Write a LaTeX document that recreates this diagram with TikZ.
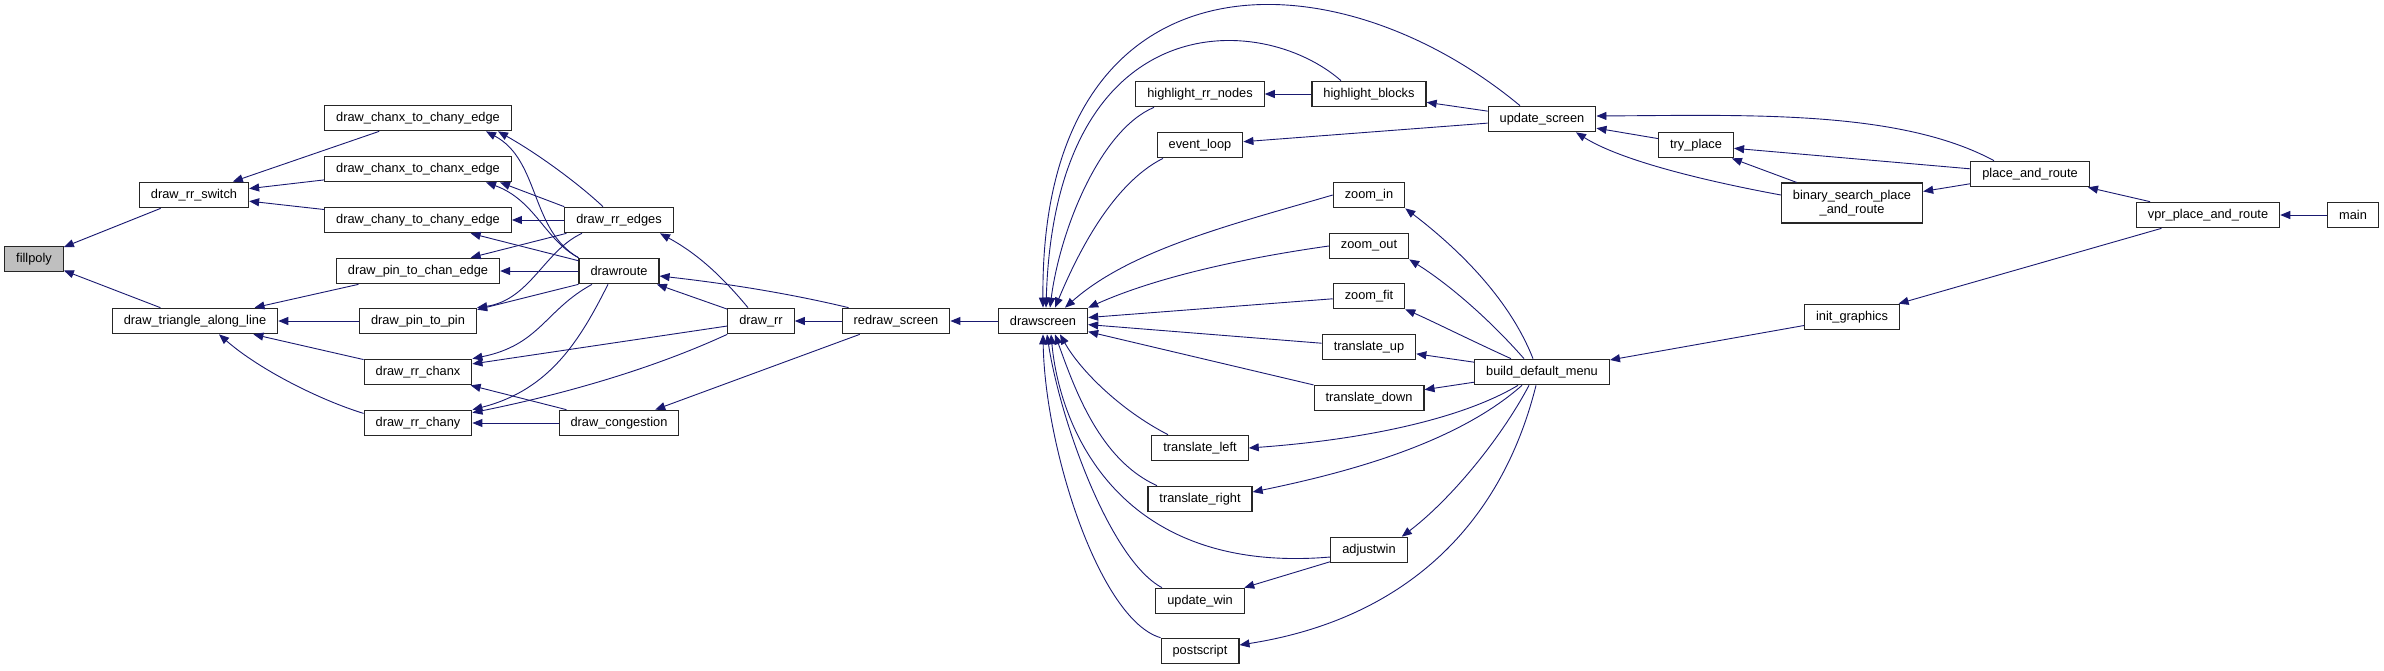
\documentclass[tikz,border=0pt]{standalone}
\usepackage{fontspec}
\setmainfont{Liberation Sans}
\usetikzlibrary{arrows.meta}
\definecolor{edgeblue}{HTML}{191970}
\definecolor{focusgray}{HTML}{BFBFBF}

\begin{document}
\begin{tikzpicture}[
    x=1pt, y=-1pt,
    func/.style={rectangle, draw=black!85, line width=1.2pt, fill=white, minimum height=25.5pt, inner xsep=11.5pt, inner ysep=0pt, font=\fontsize{12.8}{14.3}\selectfont},
    focus/.style={func, fill=focusgray},
    call/.style={->, draw=edgeblue, line width=0.9pt, >={Triangle[length=10pt,width=8pt]}}
]
    \useasboundingbox (0,0) rectangle (2384,670);

    % Functions
    \node[focus] (fillpoly) at (34,259) {fillpoly};
    \node[func] (rrswitch) at (194,195) {draw\_rr\_switch};
    \node[func] (triangle) at (195,321) {draw\_triangle\_along\_line};
    \node[func] (chanxchany) at (418,118) {draw\_chanx\_to\_chany\_edge};
    \node[func] (chanxchanx) at (418,169) {draw\_chanx\_to\_chanx\_edge};
    \node[func] (chanychany) at (418,220) {draw\_chany\_to\_chany\_edge};
    \node[func] (pinchan) at (418,271) {draw\_pin\_to\_chan\_edge};
    \node[func] (pinpin) at (418,321) {draw\_pin\_to\_pin};
    \node[func] (rrchanx) at (418,372) {draw\_rr\_chanx};
    \node[func] (rrchany) at (418,423) {draw\_rr\_chany};
    \node[func] (rredges) at (619,220) {draw\_rr\_edges};
    \node[func] (drawroute) at (619,271) {drawroute};
    \node[func] (congestion) at (619,423) {draw\_congestion};
    \node[func] (drawrr) at (761,321) {draw\_rr};
    \node[func] (redraw) at (896,321) {redraw\_screen};
    \node[func] (drawscreen) at (1043,321) {drawscreen};
    \node[func] (hlnodes) at (1200,94) {highlight\_rr\_nodes};
    \node[func] (hlblocks) at (1369,94) {highlight\_blocks};
    \node[func] (updscreen) at (1542,119) {update\_screen};
    \node[func] (eventloop) at (1200,145) {event\_loop};
    \node[func] (zoomin) at (1369,195) {zoom\_in};
    \node[func] (zoomout) at (1369,246) {zoom\_out};
    \node[func] (zoomfit) at (1369,296) {zoom\_fit};
    \node[func] (trup) at (1369,347) {translate\_up};
    \node[func] (trdown) at (1369,398) {translate\_down};
    \node[func] (trleft) at (1200,448) {translate\_left};
    \node[func] (trright) at (1200,499) {translate\_right};
    \node[func] (adjustwin) at (1369,550) {adjustwin};
    \node[func] (updwin) at (1200,601) {update\_win};
    \node[func] (postscript) at (1200,651) {postscript};
    \node[func] (bdm) at (1542,372) {build\_default\_menu};
    \node[func] (tryplace) at (1696,145) {try\_place};
    \node[func, minimum height=40pt, align=center] (binsearch) at (1852,203) {binary\_search\_place\\\_and\_route};
    \node[func] (placeroute) at (2030,174) {place\_and\_route};
    \node[func] (vpr) at (2208,215) {vpr\_place\_and\_route};
    \node[func] (main) at (2353,215) {main};
    \node[func] (initgfx) at (1852,317) {init\_graphics};

    % Callers of fillpoly
    \draw[call] (rrswitch) -- (fillpoly);
    \draw[call] (triangle) -- (fillpoly);
    \draw[call] (chanxchany) -- (rrswitch);
    \draw[call] (chanxchanx) -- (rrswitch);
    \draw[call] (chanychany) -- (rrswitch);
    \draw[call] (pinchan) -- (triangle);
    \draw[call] (pinpin) -- (triangle);
    \draw[call] (rrchanx) -- (triangle);
    \draw[call] (rrchany.170) .. controls (320,400) and (260,370) .. ([xshift=24pt]triangle.south);

    % Edge drawing
    \draw[call] ([xshift=-16pt]rredges.north) .. controls (580,185) and (540,155) .. ([xshift=80pt]chanxchany.south);
    \draw[call] (drawroute.north west) .. controls (530,230) and (540,160) .. ([xshift=68pt]chanxchany.south);
    \draw[call] (rredges.north west) -- ([xshift=82pt]chanxchanx.south);
    \draw[call] (drawroute.north west) .. controls (545,240) and (535,200) .. ([xshift=68pt]chanxchanx.south);
    \draw[call] (rredges) -- (chanychany);
    \draw[call] (drawroute) -- (chanychany);
    \draw[call] (rredges) -- (pinchan);
    \draw[call] (drawroute) -- (pinchan);
    \draw[call] ([xshift=-37pt]rredges.south) .. controls (545,250) and (530,300) .. (pinpin.north east);
    \draw[call] (drawroute.south west) -- ([yshift=-2pt]pinpin.north east);
    \draw[call] ([xshift=-27pt]drawroute.south) .. controls (545,310) and (540,345) .. (rrchanx.north east);
    \draw[call] (drawrr) -- (rrchanx);
    \draw[call] ([xshift=-11pt]drawroute.south) .. controls (580,340) and (550,390) .. (rrchany.north east);
    \draw[call] (drawrr.south west) .. controls (650,370) and (560,395) .. ([yshift=-3pt]rrchany.north east);
    \draw[call] (congestion) -- (rrchanx);
    \draw[call] (congestion) -- (rrchany);

    % Redraw chain
    \draw[call] ([xshift=-13pt]drawrr.north) .. controls (725,280) and (700,255) .. ([xshift=41pt]rredges.south);
    \draw[call] (drawrr) -- (drawroute);
    \draw[call] ([xshift=7pt]redraw.north west) .. controls (800,296) and (740,285) .. ([yshift=-5pt]drawroute.east);
    \draw[call] (redraw) -- (drawrr);
    \draw[call] (redraw) -- (congestion);
    \draw[call] (drawscreen) -- (redraw);

    % Callers of drawscreen
    \draw[call] ([xshift=-22pt]updscreen.north) .. controls (1330,-52) and (1040,-52) .. (drawscreen.north);
    \draw[call] ([xshift=-28pt]hlblocks.north) .. controls (1260,10) and (1055,5) .. ([xshift=3pt]drawscreen.north);
    \draw[call] ([xshift=-46pt]hlnodes.south) .. controls (1100,130) and (1060,230) .. ([xshift=7pt]drawscreen.north);
    \draw[call] ([xshift=-37pt]eventloop.south) .. controls (1110,185) and (1075,260) .. ([xshift=12pt]drawscreen.north);
    \draw[call] (zoomin.west) .. controls (1230,225) and (1130,250) .. ([xshift=22pt]drawscreen.north);
    \draw[call] (zoomout.west) .. controls (1230,260) and (1150,280) .. (drawscreen.north east);
    \draw[call] (zoomfit) -- (drawscreen);
    \draw[call] (trup) -- (drawscreen);
    \draw[call] (trdown) -- (drawscreen);
    \draw[call] ([xshift=-32pt]trleft.north) .. controls (1120,410) and (1080,370) .. ([xshift=17pt]drawscreen.south);
    \draw[call] ([xshift=-43pt]trright.north) .. controls (1100,460) and (1075,390) .. ([xshift=12pt]drawscreen.south);
    \draw[call] ([yshift=-7pt]adjustwin.west) .. controls (1120,575) and (1060,430) .. ([xshift=8pt]drawscreen.south);
    \draw[call] ([xshift=-38pt]updwin.north) .. controls (1110,560) and (1060,420) .. ([xshift=4pt]drawscreen.south);
    \draw[call] (postscript.north west) .. controls (1100,620) and (1045,450) .. (drawscreen.south);

    % Screen updates
    \draw[call] (hlblocks) -- (hlnodes);
    \draw[call] (updscreen) -- (hlblocks);
    \draw[call] (updscreen) -- (eventloop);
    \draw[call] (tryplace) -- (updscreen);
    \draw[call] ([yshift=8pt]binsearch.west) .. controls (1700,180) and (1620,160) .. ([xshift=34pt]updscreen.south);
    \draw[call] ([xshift=-36pt]placeroute.north) .. controls (1900,110) and (1750,115) .. ([yshift=3pt]updscreen.east);
    \draw[call] (placeroute) -- (tryplace);
    \draw[call] (binsearch) -- (tryplace);
    \draw[call] (placeroute) -- (binsearch);
    \draw[call] (vpr) -- (placeroute);
    \draw[call] (main) -- (vpr);
    \draw[call] (vpr) -- (initgfx);
    \draw[call] (initgfx) -- (bdm);

    % Menu buttons
    \draw[call] ([xshift=-9pt]bdm.north) .. controls (1510,300) and (1460,250) .. (zoomin.south east);
    \draw[call] ([xshift=-18pt]bdm.north) .. controls (1490,320) and (1450,285) .. (zoomout.south east);
    \draw[call] ([xshift=-31pt]bdm.north) .. controls (1470,340) and (1430,320) .. (zoomfit.south east);
    \draw[call] (bdm) -- (trup);
    \draw[call] (bdm) -- (trdown);
    \draw[call] ([xshift=-24pt]bdm.south) .. controls (1460,420) and (1360,440) .. (trleft.east);
    \draw[call] ([xshift=-20pt]bdm.south) .. controls (1460,440) and (1360,470) .. ([yshift=7pt]trright.east);
    \draw[call] ([xshift=-13pt]bdm.south) .. controls (1500,440) and (1450,500) .. ([xshift=-6pt]adjustwin.north east);
    \draw[call] ([xshift=-6pt]bdm.south) .. controls (1500,530) and (1400,620) .. ([yshift=6pt]postscript.east);
    \draw[call] (adjustwin) -- (updwin);

\end{tikzpicture}
\end{document}
